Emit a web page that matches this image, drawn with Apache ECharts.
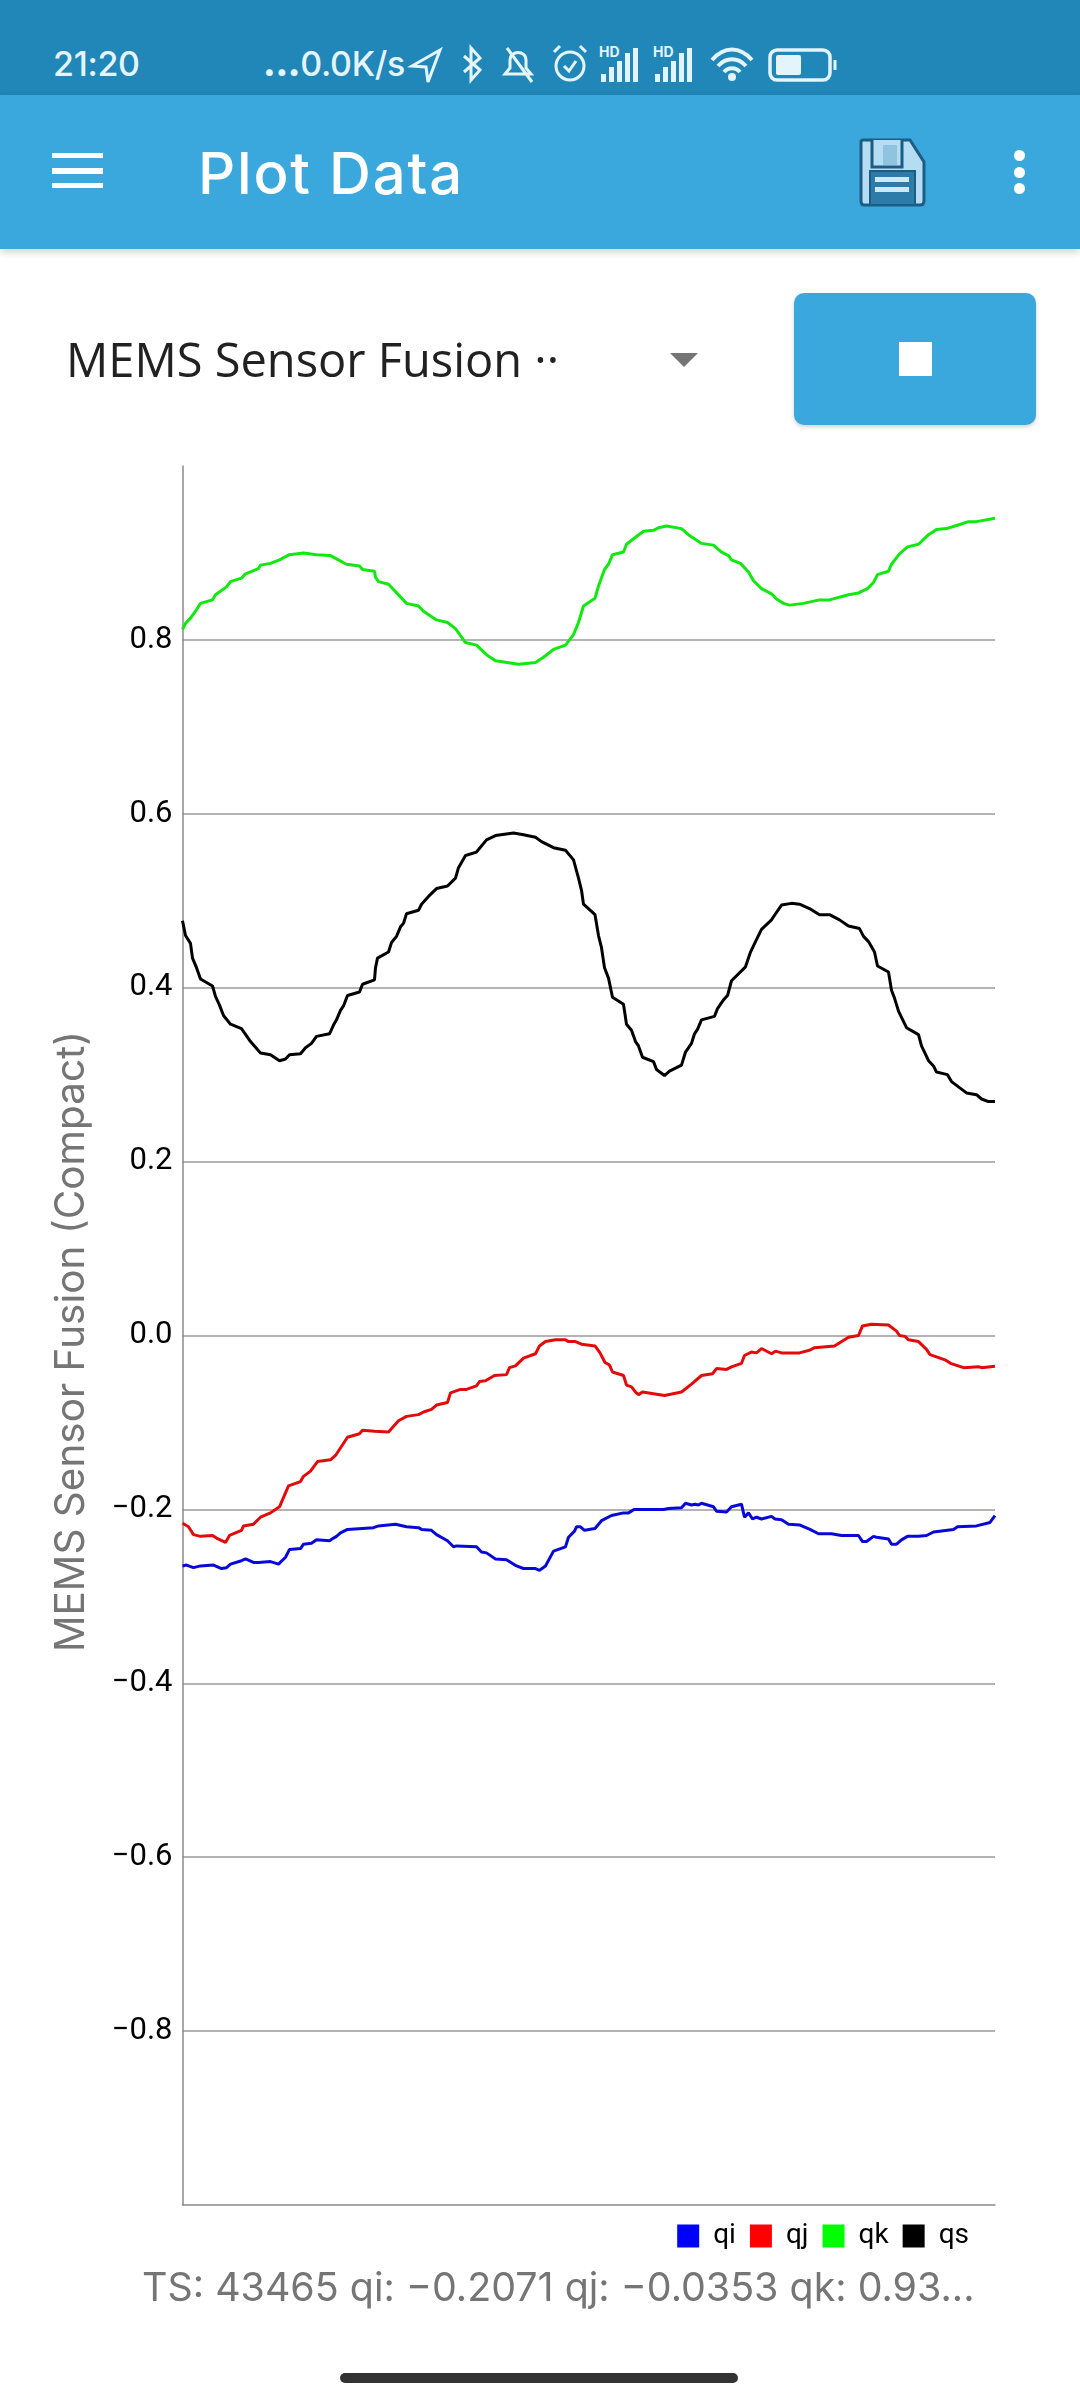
<!DOCTYPE html>
<html><head><meta charset="utf-8">
<script src="https://cdn.jsdelivr.net/npm/echarts@6/dist/echarts.min.js"></script>
<style>
html,body{margin:0;padding:0;background:#fff;width:1080px;height:2400px;overflow:hidden;font-family:"Open Sans",sans-serif}
.a{position:absolute}
#chart{position:absolute;left:0;top:0;width:1080px;height:2400px}
</style></head><body>
<div id="chart"></div>
<div class="a" style="left:0;top:0;width:1080px;height:95px;background:#2087b8"></div>
<div class="a" style="left:0;top:95px;width:1080px;height:154px;background:#3aa8dc;box-shadow:0 3px 8px rgba(0,0,0,.18)"></div>
<div class="a" style="left:53px;top:43px;font:500 34px Inter;color:#e4f4fb;letter-spacing:-.3px">21:20</div>
<div class="a" style="left:263px;top:43px;font:500 34px Inter;color:#e4f4fb;letter-spacing:-.3px"><span style="font-weight:900">...</span>0.0K/s</div>
<svg class="a" style="left:0;top:40px" width="1080" height="50" fill="none" stroke="#e4f4fb" stroke-width="3">
<path d="M412 26 L440 10 L428 42 L426 27Z"/>
<path d="M464 16 L480 30 L471 40 V8 L480 18 L464 32"/>
<path d="M505 34 H531 L526 28 V20 C526 10 510 10 510 20 V28Z M507 8 L532 42"/>
<circle cx="570" cy="26" r="14"/><path d="M564 26 L569 31 L576 21 M554 12 L560 6 M586 12 L580 6"/>
<g fill="#e4f4fb" stroke="none" font-family="Inter" font-size="14" font-weight="700"><text x="599" y="17">HD</text><text x="653" y="17">HD</text>
<rect x="601" y="34" width="5" height="8"/><rect x="609" y="27" width="5" height="15"/><rect x="617" y="21" width="5" height="21"/><rect x="625" y="13" width="5" height="29"/><rect x="633" y="8" width="5" height="34"/>
<rect x="655" y="34" width="5" height="8"/><rect x="663" y="27" width="5" height="15"/><rect x="671" y="21" width="5" height="21"/><rect x="679" y="13" width="5" height="29"/><rect x="687" y="8" width="5" height="34"/>
<circle cx="732" cy="37" r="4"/></g>
<path d="M712 20 C724 6 740 6 752 20 M718 26 C726 17 738 17 746 26 M724 32 C728 27 736 27 740 32" stroke-width="4"/>
<rect x="770" y="10" width="60" height="30" rx="7" stroke-width="3.5"/><rect x="776" y="15" width="25" height="20" rx="2" fill="#e4f4fb" stroke="none"/><path d="M835 20 V30" stroke-width="3"/>
</svg>
<div class="a" style="left:52px;top:153px;width:51px;height:5px;background:#fff"></div>
<div class="a" style="left:52px;top:168px;width:51px;height:6px;background:#fff"></div>
<div class="a" style="left:52px;top:183px;width:51px;height:5px;background:#fff"></div>
<div class="a" style="left:198px;top:138px;font:500 58px Inter;color:#fff;letter-spacing:1.8px">Plot Data</div>
<svg class="a" style="left:858px;top:137px" width="70" height="72">
<path d="M3 5 Q3 3 5 3 H52 L66 25 V64 Q66 68 62 68 H6 Q3 68 3 64Z" fill="#b4dcf2" stroke="#1c5d86" stroke-width="3"/>
<path d="M14 3 V30 H44 V3" fill="#b4dcf2" stroke="#1c5d86" stroke-width="3"/><rect x="25" y="8" width="14" height="20" fill="#8fc3e0"/>
<rect x="12" y="34" width="45" height="34" fill="#2c7ba8" stroke="#1c5d86" stroke-width="2"/>
<rect x="17" y="40" width="34" height="5" fill="#cfe8f5"/><rect x="17" y="50" width="34" height="5" fill="#cfe8f5"/>
</svg>
<div class="a" style="left:1014px;top:150px;width:11px;height:11px;border-radius:50%;background:#fff"></div>
<div class="a" style="left:1014px;top:167px;width:11px;height:11px;border-radius:50%;background:#fff"></div>
<div class="a" style="left:1014px;top:183px;width:11px;height:11px;border-radius:50%;background:#fff"></div>
<div class="a" style="left:66px;top:327px;font:400 47px 'Open Sans';color:#212121;white-space:nowrap">MEMS Sensor Fusion ··</div>
<div class="a" style="left:670px;top:353px;width:0;height:0;border-left:14px solid transparent;border-right:14px solid transparent;border-top:14px solid #757575"></div>
<div class="a" style="left:794px;top:293px;width:242px;height:132px;border-radius:10px;background:#3aa8dc;box-shadow:0 2px 4px rgba(0,0,0,.18)"></div>
<div class="a" style="left:899px;top:342px;width:33px;height:34px;background:#fff"></div>
<div class="a" style="left:142px;top:2263px;font:400 39.4px Inter;color:#757575;white-space:nowrap">TS: 43465 qi: −0.2071 qj: −0.0353 qk: 0.93...</div>
<div class="a" style="left:340px;top:2373px;width:398px;height:10px;border-radius:5px;background:#333"></div>
<script>
const seriesNames = ['qi','qj','qk','qs'];
const yTicks = {min:-1, max:1, step:0.2};
const sampleRange = [0, 812.5];

const qsT = [0,3,8,10,14,18,30,33,37,41,48,59,68,78,88,97,103,107,118,123,129,134,147,151,154,158,161,165,177,180,192,193,195,206,209,214,218,221,224,236,239,246,254,265,273,276,283,294,304,313,331,341,353,359,371,383,391,396,399,401,412.5,416,419,422,426,430,441,444,449,453,456,460,471,474,482,487,499,503,509,512,515,519,532,535,541,545,549,563,568,573,579,589,593,599,609,617,627,637,647,657,666,677,681,686,692,695,706,709,712,716,724,736,739,742,746,751,754,765,769,784,794,799,806,812.5];
const qsV = [.477,.460,.451,.434,.423,.410,.402,.390,.380,.368,.358,.353,.338,.325,.323,.316,.318,.323,.324,.331,.336,.344,.347,.357,.363,.374,.379,.391,.395,.404,.409,.423,.434,.441,.452,.459,.470,.474,.485,.489,.496,.505,.514,.517,.526,.538,.552,.556,.570,.575,.578,.576,.573,.568,.561,.558,.547,.526,.512,.496,.484,.460,.446,.423,.411,.389,.381,.358,.351,.338,.333,.320,.315,.306,.299,.304,.311,.326,.336,.347,.352,.363,.367,.376,.386,.391,.408,.424,.441,.453,.467,.478,.485,.495,.497,.496,.491,.484,.484,.478,.471,.468,.459,.453,.441,.425,.418,.397,.388,.373,.354,.346,.333,.326,.316,.310,.303,.300,.292,.279,.277,.272,.269,.269];

const qkT = [0,3,8,13,18,30,33,44,48,59,63,76,78,88,97,107,121,134,148,164,177,180,192,193,196,206,211,224,236,241,254,265,273,283,294,304,313,336,353,361,371,383,391,396,401,412.5,416,422,426,430,441,444,453,461,471,476,484,499,507,519,531,539,546,549,558,566,571,579,589,594,601,607,621,637,647,666,676,685,691,695,706,709,717,725,736,746,754,764,778,786,794,812.5];
const qkV = [.812,.819,.825,.833,.842,.846,.852,.861,.867,.871,.876,.882,.886,.888,.892,.898,.900,.898,.897,.887,.885,.881,.879,.872,.867,.864,.858,.842,.839,.833,.823,.820,.813,.797,.794,.783,.776,.772,.774,.780,.789,.794,.806,.820,.839,.848,.862,.881,.887,.898,.901,.910,.918,.925,.926,.929,.931,.928,.920,.911,.909,.901,.897,.892,.888,.878,.868,.859,.853,.847,.842,.840,.842,.846,.846,.852,.854,.859,.866,.875,.879,.887,.899,.907,.910,.921,.927,.928,.933,.936,.936,.940];

const qjT = [0,6,11,18,30,34,43,47,59,61,71,78,88,97,106,118,121,128,135,148,153,165,177,180,192,194,206,216,224,236,241,249,254,265,268,278,284,294,297,303,312,324,327,333,341,353,357,363,373,383,386,393,399,412.5,417.5,422.5,427,430,441,444,449,453,456,460,471,482,499,509,519,530,534,544,549,559,562,569,574,579,589,593,599,617,627,632,652,666,676,680,689,706,714,717,722.5,726,736,744,747.5,762.5,768,781,796,799,812.5];
const qjV = [-.216,-.220,-.229,-.231,-.230,-.233,-.238,-.230,-.224,-.219,-.217,-.209,-.204,-.197,-.173,-.168,-.162,-.156,-.145,-.143,-.138,-.117,-.113,-.109,-.110,-.112,-.111,-.098,-.093,-.091,-.088,-.085,-.080,-.077,-.066,-.062,-.062,-.058,-.053,-.052,-.046,-.045,-.037,-.035,-.026,-.021,-.012,-.007,-.005,-.005,-.007,-.007,-.010,-.012,-.020,-.031,-.034,-.042,-.046,-.057,-.059,-.065,-.068,-.065,-.067,-.069,-.065,-.056,-.046,-.044,-.038,-.039,-.036,-.032,-.023,-.019,-.020,-.015,-.021,-.018,-.020,-.020,-.017,-.014,-.012,-.002,.000,.011,.013,.012,.005,.000,-.001,-.005,-.007,-.016,-.022,-.028,-.032,-.037,-.036,-.037,-.0353];

const qiT = [0,4,11,18,31,39,44,48,59,63,71,76,88,96,103,107,118,121,129,134,147,151,154,158,165,191,196,213,224,236,239,249,254,265,271,274,294,299,304,313,324,334,341,353,357,363,371,383,386,392,394,398,402,412.5,419,429,441,446,451.5,471,481,486,499,503,509,512.5,516,519,531,534,544,549,559,562,566,570,574,579,589,592.5,599,606,617.5,627.5,636,649,659,676,680,684,691,694,706,709,714,719,725,736,744,751,771,775,794,807.5,812.5];
const qiV = [-.265,-.264,-.267,-.265,-.264,-.268,-.267,-.263,-.259,-.257,-.261,-.261,-.260,-.263,-.255,-.246,-.245,-.240,-.239,-.235,-.236,-.233,-.231,-.227,-.223,-.221,-.219,-.217,-.220,-.221,-.223,-.224,-.229,-.236,-.243,-.242,-.243,-.249,-.250,-.257,-.258,-.265,-.268,-.268,-.270,-.265,-.248,-.243,-.232,-.225,-.220,-.220,-.224,-.222,-.213,-.207,-.204,-.204,-.200,-.200,-.200,-.199,-.198,-.193,-.195,-.194,-.195,-.193,-.197,-.202,-.203,-.197,-.194,-.209,-.204,-.211,-.209,-.211,-.208,-.211,-.212,-.217,-.218,-.223,-.228,-.228,-.230,-.230,-.237,-.237,-.231,-.232,-.234,-.240,-.240,-.235,-.231,-.231,-.230,-.226,-.223,-.220,-.219,-.215,-.2071];

const zip = (t, v) => t.map((x, i) => [x, v[i]]);
const qColors = {qi:'#0000ff', qj:'#ff0000', qk:'#00ff00', qs:'#000000'};
const lineColors = {qi:'#0808d8', qj:'#e40a0a', qk:'#10e810', qs:'#000000'};
const pairs = {qi:zip(qiT,qiV), qj:zip(qjT,qjV), qk:zip(qkT,qkV), qs:zip(qsT,qsV)};

const chart = echarts.init(document.getElementById('chart'), null, {renderer:'canvas'});
chart.setOption({
  animation:false,
  backgroundColor:'#fff',
  grid:{left:182.5, right:85, top:466, bottom:195, containLabel:false},
  xAxis:{type:'value', min:sampleRange[0], max:sampleRange[1],
    axisLine:{show:true, onZero:false, lineStyle:{color:'#8a8a8a', width:1.5}},
    axisTick:{show:false}, axisLabel:{show:false}, splitLine:{show:false}},
  yAxis:{type:'value', min:yTicks.min, max:yTicks.max, interval:yTicks.step,
    name:'MEMS Sensor Fusion (Compact)', nameLocation:'middle', nameGap:90,
    nameTextStyle:{fontFamily:'Inter', fontSize:40.5, color:'#757575', padding:[0,12,0,0]},
    axisLine:{show:true, onZero:false, lineStyle:{color:'#8a8a8a', width:1.5}},
    axisTick:{show:false},
    axisLabel:{color:'#000', fontFamily:'Roboto', fontSize:31, margin:10, showMinLabel:false, showMaxLabel:false,
      formatter:v => (v<0?'−':'') + Math.abs(v).toFixed(1)},
    splitLine:{show:true, showMinLine:false, showMaxLine:false, lineStyle:{color:'#9a9a9a', width:1.5}}},
  legend:{show:true, right:106, top:2217, icon:'rect', itemWidth:22, itemHeight:23, itemGap:14,
    data:seriesNames.map(n => ({name:n, itemStyle:{color:qColors[n]}})),
    textStyle:{color:'#000', fontFamily:'Roboto', fontSize:28, padding:[0,0,0,9]}},
  series:seriesNames.map(n => ({name:n, type:'line', data:pairs[n], showSymbol:false, symbol:'none', smooth:false,
    lineStyle:{color:lineColors[n], width:3}, itemStyle:{color:qColors[n]}, emphasis:{disabled:true}}))
});
</script>
</body></html>
